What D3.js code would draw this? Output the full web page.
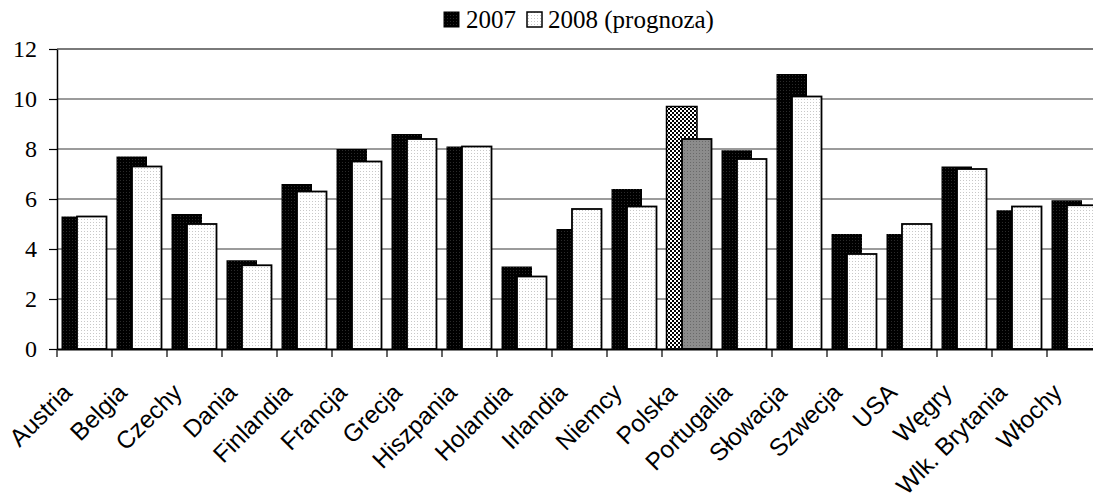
<!DOCTYPE html>
<html>
<head>
<meta charset="utf-8">
<script src="https://cdn.jsdelivr.net/npm/d3@7"></script>
<style>
  html, body { margin: 0; padding: 0; background: #fff; }
  svg { display: block; }
</style>
</head>
<body>
<svg id="chart" width="1093" height="499"></svg>
<script>
// data
const countries = ["Austria", "Belgia", "Czechy", "Dania", "Finlandia", "Francja", "Grecja",
  "Hiszpania", "Holandia", "Irlandia", "Niemcy", "Polska", "Portugalia", "Słowacja",
  "Szwecja", "USA", "Węgry", "Wlk. Brytania", "Włochy"];
const v2007 = [5.3, 7.7, 5.4, 3.55, 6.6, 8.0, 8.6, 8.1, 3.3, 4.8, 6.4, 9.7, 7.95, 11.0, 4.6, 4.6, 7.3, 5.55, 5.95];
const v2008 = [5.3, 7.3, 5.0, 3.35, 6.3, 7.5, 8.4, 8.1, 2.9, 5.6, 5.7, 8.4, 7.6, 10.1, 3.8, 5.0, 7.2, 5.7, 5.75];
const yTicks = [0, 2, 4, 6, 8, 10, 12];
const seriesNames = ["2007", "2008 (prognoza)"];
const highlight = "Polska";

const svg = d3.select("#chart");
const plotLeft = 57, plotTop = 49, plotBottom = 349, band = 55;

const x = d3.scaleBand()
  .domain(countries)
  .range([plotLeft, plotLeft + band * countries.length])
  .padding(0);
const y = d3.scaleLinear().domain([0, 12]).range([plotBottom, plotTop]);

// fill patterns
const defs = svg.append("defs");
function dots(id, bg, fg, size) {
  const p = defs.append("pattern").attr("id", id)
    .attr("width", size).attr("height", size).attr("patternUnits", "userSpaceOnUse");
  p.append("rect").attr("width", size).attr("height", size).attr("fill", bg);
  p.append("rect").attr("width", 1).attr("height", 1).attr("fill", fg);
}
dots("pBlack", "#000", "#2a2a2a", 3);
dots("pWhite", "#fff", "#c8c8c8", 3);
dots("pGray", "#8c8c8c", "#6a6a6a", 3);
const chk = defs.append("pattern").attr("id", "pCheck")
  .attr("width", 4).attr("height", 4).attr("patternUnits", "userSpaceOnUse");
chk.append("rect").attr("width", 4).attr("height", 4).attr("fill", "#fff");
chk.append("rect").attr("width", 2).attr("height", 2).attr("fill", "#000");
chk.append("rect").attr("x", 2).attr("y", 2).attr("width", 2).attr("height", 2).attr("fill", "#000");

// gridlines
svg.append("g")
  .selectAll("line")
  .data(yTicks.filter(d => d > 0))
  .join("line")
  .attr("x1", plotLeft).attr("x2", 1093)
  .attr("y1", d => y(d)).attr("y2", d => y(d))
  .attr("stroke", "#7a7a7a")
  .attr("stroke-width", d => d === 12 ? 2 : 1.3);

// bars
const data = countries.map((c, i) => ({ c, a: v2007[i], b: v2008[i] }));
const g = svg.append("g");
g.selectAll("rect.a")
  .data(data)
  .join("rect")
  .attr("class", "a")
  .attr("x", d => x(d.c) + 4.5)
  .attr("width", 30.5)
  .attr("y", d => y(d.a))
  .attr("height", d => y(0) - y(d.a))
  .attr("fill", d => d.c === highlight ? "url(#pCheck)" : "url(#pBlack)")
  .attr("stroke", "#000")
  .attr("stroke-width", d => d.c === highlight ? 1.5 : 0);

g.selectAll("rect.b")
  .data(data)
  .join("rect")
  .attr("class", "b")
  .attr("x", d => x(d.c) + 20)
  .attr("width", 29.5)
  .attr("y", d => y(d.b))
  .attr("height", d => y(0) - y(d.b))
  .attr("fill", d => d.c === highlight ? "url(#pGray)" : "url(#pWhite)")
  .attr("stroke", "#000")
  .attr("stroke-width", 1.8);

// y axis
const yAxis = svg.append("g")
  .attr("transform", `translate(${plotLeft},0)`)
  .call(d3.axisLeft(y).tickValues(yTicks).tickSize(8).tickPadding(12).tickSizeOuter(0));
yAxis.select(".domain").attr("stroke", "#000").attr("stroke-width", 1.5);
yAxis.selectAll(".tick line").attr("stroke", "#000").attr("stroke-width", 1.2);
yAxis.selectAll("text")
  .attr("font-family", "'Liberation Serif', 'Times New Roman', serif")
  .attr("font-size", 24)
  .attr("fill", "#000");

// x axis
const xAxis = svg.append("g")
  .attr("transform", `translate(0,${plotBottom})`)
  .call(d3.axisBottom(x).tickSize(0).tickFormat(""));
xAxis.select(".domain").attr("stroke", "#000").attr("stroke-width", 2.2);
xAxis.append("g")
  .selectAll("line")
  .data(countries)
  .join("line")
  .attr("x1", d => x(d)).attr("x2", d => x(d))
  .attr("y1", 0).attr("y2", 8)
  .attr("stroke", "#000").attr("stroke-width", 1.2);

svg.append("g")
  .selectAll("text")
  .data(countries)
  .join("text")
  .attr("transform", d => `translate(${x(d) + x.bandwidth() / 2 - 11},${plotBottom + 45}) rotate(-45)`)
  .attr("text-anchor", "end")
  .attr("font-family", "'Liberation Sans', Arial, sans-serif")
  .attr("font-size", 24.5)
  .attr("fill", "#000")
  .text(d => d);

// legend
const legend = svg.append("g").attr("font-family", "'Liberation Serif', 'Times New Roman', serif")
  .attr("font-size", 25);
legend.append("rect").attr("x", 444).attr("y", 12).attr("width", 15).attr("height", 15)
  .attr("fill", "url(#pBlack)").attr("stroke", "#000").attr("stroke-width", 1);
legend.append("text").attr("x", 466).attr("y", 28).text(seriesNames[0]);
legend.append("rect").attr("x", 527).attr("y", 12).attr("width", 15).attr("height", 15)
  .attr("fill", "url(#pWhite)").attr("stroke", "#000").attr("stroke-width", 1.5);
legend.append("text").attr("x", 548).attr("y", 28).text(seriesNames[1]);
</script>
</body>
</html>
